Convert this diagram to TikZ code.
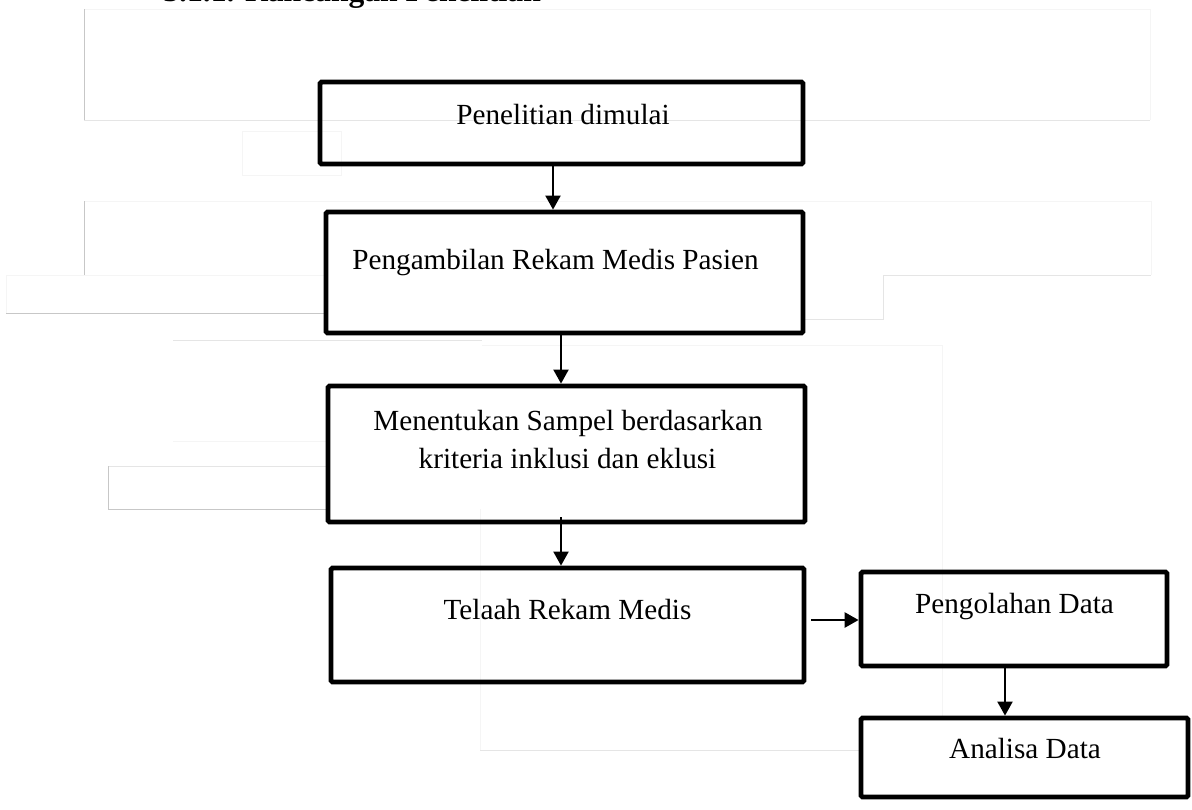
\documentclass[tikz,border=0pt]{standalone}
\usepackage{fontspec}
\setmainfont{Liberation Serif}
\usetikzlibrary{arrows.meta,calc}
\begin{document}
\begin{tikzpicture}[x=0.5pt,y=-0.5pt,
  box/.style={draw,line width=2.4pt,rounded corners=0.8pt,inner sep=0pt},
  lbl/.style={anchor=base,font=\fontsize{14.6}{17.5}\selectfont},
  arr/.style={line width=1pt,-{Triangle[length=7pt,width=7.5pt]}},
  faint/.style={draw=black!10,line width=0.5pt},
  faintb/.style={draw=black!22,line width=0.5pt},
  faintc/.style={draw=black!4,line width=0.5pt}]
\useasboundingbox (0,0) rectangle (1192,809);

% faint background lines
\draw[faintc] (84,9) -- (1150,9);
\draw[faintb] (84,9) -- (84,120);
\draw[faint] (84,120) -- (1150,120);
\draw[faintc] (1150,9) -- (1150,120);
\draw[faintc] (242,131) rectangle (341,175);
\draw[faintc] (84,201) -- (1151,201);
\draw[faintb] (84,201) -- (84,275);
\draw[faintc] (1151,201) -- (1151,275);
\draw[faint] (883,275) -- (1151,275);
\draw[faintc] (6,275) -- (326,275);
\draw[faintc] (6,275) -- (6,313);
\draw[faintb] (6,313) -- (326,313);
\draw[faint] (883,275) -- (883,319) -- (805,319);
\draw[faint] (173,340) -- (482,340);
\draw[faintc] (482,345) -- (942,345) -- (942,717);
\draw[faintc] (173,441) -- (330,441);
\draw[faint] (108,466) -- (330,466);
\draw[faintb] (108,466) -- (108,509) -- (330,509);
\draw[faintc] (480,509) -- (480,750);
\draw[faint] (480,750) -- (861,750);

% title (cut off at top, as in the reference)
\node[anchor=base west,inner sep=0pt,font=\bfseries\fontsize{15.8}{19}\selectfont] (title) at (163,1.5) {3.1.1. Rancangan Penelitian};

% boxes
\node[box,minimum width=241.5pt,minimum height=41pt] (b1) at (561.5,123) {};
\node[box,minimum width=238.5pt,minimum height=60.5pt] (b2) at (564.5,272.5) {};
\node[box,minimum width=238.5pt,minimum height=68pt] (b3) at (566.5,454) {};
\node[box,minimum width=236.5pt,minimum height=57pt] (b4) at (567.5,625) {};
\node[box,minimum width=153pt,minimum height=47pt] (b5) at (1014,619) {};
\node[box,minimum width=163.5pt,minimum height=39.5pt] (b6) at (1024.5,757.5) {};

% labels
\node[lbl] (t1) at (563,124) {Penelitian dimulai};
\node[lbl] (t2) at (555.5,269) {Pengambilan Rekam Medis Pasien};
\node[lbl] (t3a) at (568,430) {Menentukan Sampel berdasarkan};
\node[lbl] (t3b) at (567.5,468) {kriteria inklusi dan eklusi};
\node[lbl] (t4) at (567.5,619) {Telaah Rekam Medis};
\node[lbl] (t5) at (1014.5,613) {Pengolahan Data};
\node[lbl] (t6) at (1025,758) {Analisa Data};

% connectors
\coordinate (x1) at (553,0);
\coordinate (x2) at (561,0);
\coordinate (x3) at (561,0);
\coordinate (x5) at (1005,0);
\coordinate (h4) at (811,620);
\draw[arr] (b1.south -| x1) -- (b2.north -| x1);
\draw[arr] (b2.south -| x2) -- (b3.north -| x2);
\draw[arr] ($(b3.south -| x3)+(0,-7)$) -- (b4.north -| x3);
\draw[arr,line width=1.3pt] (h4) -- (h4 -| b5.west);
\draw[arr] (b5.south -| x5) -- (b6.north -| x5);
\end{tikzpicture}
\end{document}
